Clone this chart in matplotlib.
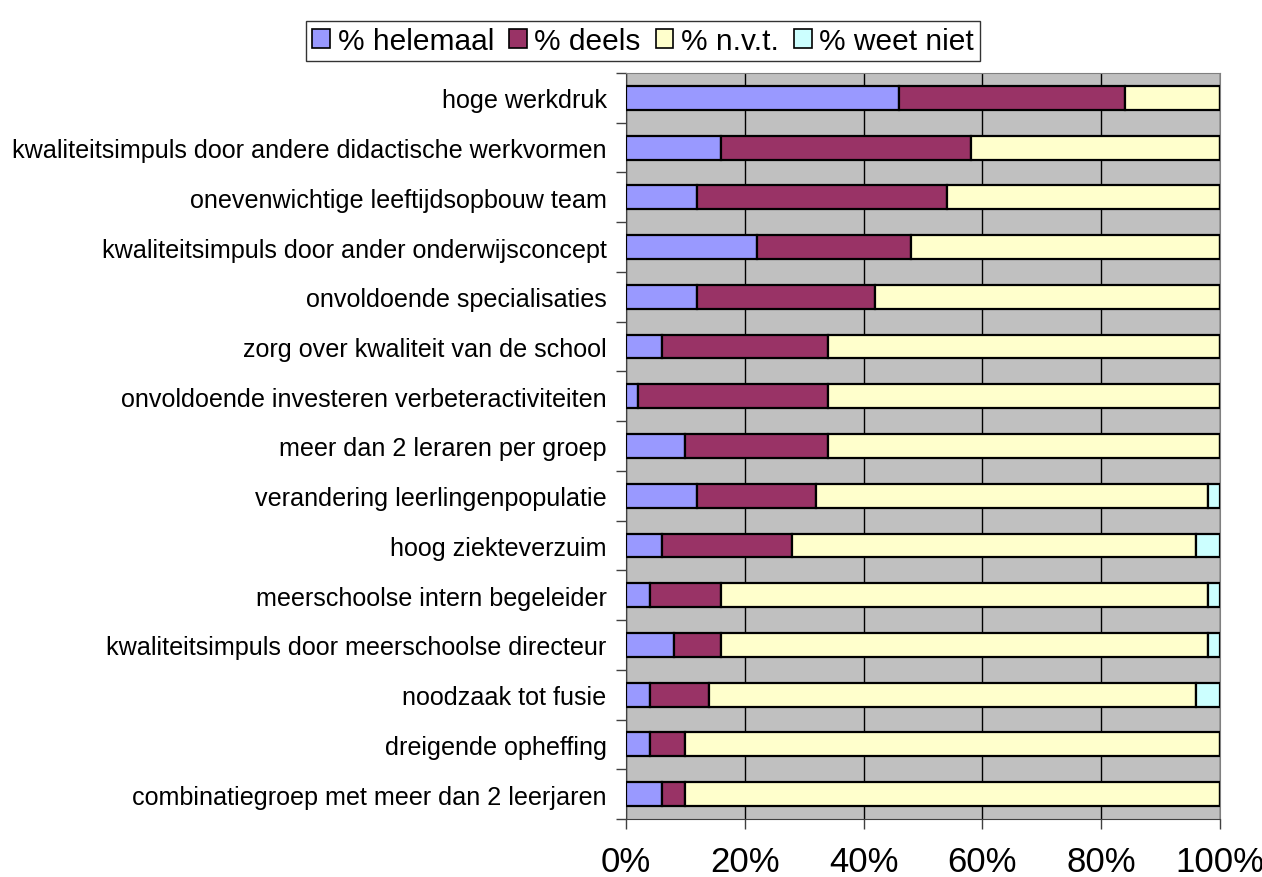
import numpy as np
import matplotlib
matplotlib.use("Agg")
import matplotlib.pyplot as plt
from matplotlib.ticker import PercentFormatter

plt.rcParams['font.family'] = ['Liberation Sans', 'DejaVu Sans']

categories = [
    "hoge werkdruk",
    "kwaliteitsimpuls door andere didactische werkvormen",
    "onevenwichtige leeftijdsopbouw team",
    "kwaliteitsimpuls door ander onderwijsconcept",
    "onvoldoende specialisaties",
    "zorg over kwaliteit van de school",
    "onvoldoende investeren verbeteractiviteiten",
    "meer dan 2 leraren per groep",
    "verandering leerlingenpopulatie",
    "hoog ziekteverzuim",
    "meerschoolse intern begeleider",
    "kwaliteitsimpuls door meerschoolse directeur",
    "noodzaak tot fusie",
    "dreigende opheffing",
    "combinatiegroep met meer dan 2 leerjaren",
]
helemaal = [46, 16, 12, 22, 12, 6, 2, 10, 12, 6, 4, 8, 4, 4, 6]
deels = [38, 42, 42, 26, 30, 28, 32, 24, 20, 22, 12, 8, 10, 6, 4]
nvt = [16, 42, 46, 52, 58, 66, 66, 66, 66, 68, 82, 82, 82, 90, 90]
weet_niet = [0, 0, 0, 0, 0, 0, 0, 0, 2, 4, 2, 2, 4, 0, 0]

series = [
    ("% helemaal", helemaal, "#9999FF"),
    ("% deels", deels, "#993366"),
    ("% n.v.t.", nvt, "#FFFFCC"),
    ("% weet niet", weet_niet, "#CCFFFF"),
]

fig = plt.figure(figsize=(12.62, 8.78), dpi=100)
ax = fig.add_axes([626/1262, 1-820/878, (1220-626)/1262, (820-74)/878])
ax.set_facecolor("#C0C0C0")

y = np.arange(len(categories))
left = np.zeros(len(categories))
for name, vals, col in series:
    vals = np.array(vals, dtype=float)
    ax.barh(y, vals, left=left, height=0.48, color=col, edgecolor="black",
            linewidth=1.6, label=name, zorder=3)
    left += vals

ax.set_xlim(0, 100)
ax.set_ylim(len(categories) - 0.5, -0.5)
ax.set_xticks(np.arange(0, 101, 20))
ax.xaxis.set_major_formatter(PercentFormatter(decimals=0))
ax.grid(axis="x", color="black", linewidth=1, zorder=1)
ax.set_axisbelow(True)

ax.set_yticks(y)
ax.set_yticklabels(categories, fontsize=18.1)
ax.set_yticks(np.arange(-0.5, len(categories), 1), minor=True)
ax.tick_params(axis="y", which="major", length=0, pad=14)
ax.tick_params(axis="y", which="minor", length=7, width=1, color="#404040")
ax.tick_params(axis="x", labelsize=25, length=7, width=1, pad=12, color="#404040")

for s in ["top", "right"]:
    ax.spines[s].set_color("#808080")
for s in ["left", "bottom"]:
    ax.spines[s].set_color("#404040")

leg = fig.legend(loc="center", bbox_to_anchor=(643/1262, 1-42/878), ncol=4,
                 fontsize=21.5, frameon=True, fancybox=False, edgecolor="black",
                 handlelength=0.6, handleheight=0.6, handletextpad=0.25,
                 columnspacing=0.5, borderpad=0.2, borderaxespad=0)
for h in leg.legend_handles:
    h.set_linewidth(1.2)

fig.savefig("out.png", dpi=100)
